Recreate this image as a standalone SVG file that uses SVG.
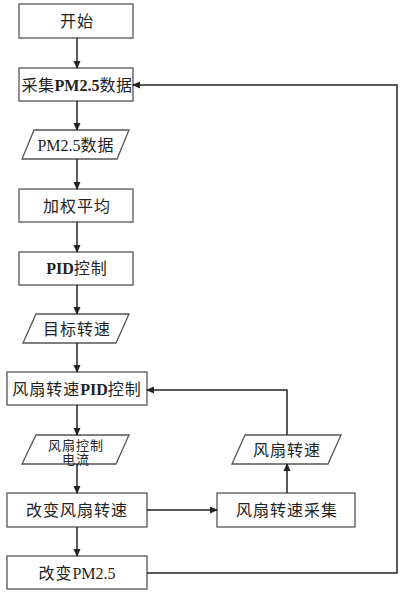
<svg xmlns="http://www.w3.org/2000/svg" width="402" height="592" viewBox="0 0 402 592">
<style>
.b{fill:#fff;stroke:#555;stroke-width:1.3}
.t{font-family:"Liberation Serif","Noto Sans CJK SC",serif;font-size:16px;letter-spacing:1px;fill:#222;text-anchor:middle;dominant-baseline:central}
.s{font-size:13px}
.l{font-weight:bold;letter-spacing:0}
.r{letter-spacing:0}
.c{fill:none;stroke:#222;stroke-width:1.5}
</style>
<defs>
<marker id="a" markerWidth="8" markerHeight="8" refX="7" refY="4" orient="auto" markerUnits="userSpaceOnUse">
<path d="M0,0.5 L8,4 L0,7.5 Z" fill="#222"/>
</marker>
</defs>
<rect width="402" height="592" fill="#fff"/>
<g id="n1"><rect class="b" x="19" y="4" width="114" height="34"/><text class="t" x="77" y="21">开始</text></g>
<g id="n2"><rect class="b" x="19" y="68" width="114" height="33"/><text class="t" x="77" y="85" style="letter-spacing:0.5px">采集<tspan class="l">PM2.5</tspan>数据</text></g>
<g id="n3"><polygon class="b" points="34,130 129,130 117,159 22,159"/><text class="t" x="76" y="145"><tspan class="r">PM2.5</tspan>数据</text></g>
<g id="n4"><rect class="b" x="19" y="189" width="114" height="33"/><text class="t" x="77" y="206">加权平均</text></g>
<g id="n5"><rect class="b" x="19" y="252" width="114" height="33"/><text class="t" x="77" y="268"><tspan class="l">PID</tspan>控制</text></g>
<g id="n6"><polygon class="b" points="36,314 129,314 116,343 23,343"/><text class="t" x="77" y="329">目标转速</text></g>
<g id="n7"><rect class="b" x="7" y="372" width="140" height="33"/><text class="t" x="77" y="389">风扇转速<tspan class="l">PID</tspan>控制</text></g>
<g id="n8"><polygon class="b" points="36,435 129,435 116,464 22,464"/><text class="t s" x="76" y="445">风扇控制</text><text class="t s" x="76" y="459">电流</text></g>
<g id="n9"><polygon class="b" points="245,435 341,435 328,464 232,464"/><text class="t" x="287" y="450">风扇转速</text></g>
<g id="n10"><rect class="b" x="7" y="493" width="140" height="34"/><text class="t" x="77" y="510">改变风扇转速</text></g>
<g id="n11"><rect class="b" x="217" y="493" width="138" height="34"/><text class="t" x="287" y="510">风扇转速采集</text></g>
<g id="n12"><rect class="b" x="7" y="556" width="140" height="33"/><text class="t" x="77" y="573">改变<tspan class="r">PM2.5</tspan></text></g>
<g id="connectors">
<line class="c" x1="77" y1="38" x2="77" y2="68" marker-end="url(#a)"/>
<line class="c" x1="77" y1="101" x2="77" y2="130" marker-end="url(#a)"/>
<line class="c" x1="77" y1="159" x2="77" y2="189" marker-end="url(#a)"/>
<line class="c" x1="77" y1="222" x2="77" y2="252" marker-end="url(#a)"/>
<line class="c" x1="77" y1="285" x2="77" y2="314" marker-end="url(#a)"/>
<line class="c" x1="77" y1="343" x2="77" y2="372" marker-end="url(#a)"/>
<line class="c" x1="77" y1="405" x2="77" y2="435" marker-end="url(#a)"/>
<line class="c" x1="77" y1="464" x2="77" y2="493" marker-end="url(#a)"/>
<line class="c" x1="77" y1="527" x2="77" y2="556" marker-end="url(#a)"/>
<line class="c" x1="147" y1="510" x2="217" y2="510" marker-end="url(#a)"/>
<line class="c" x1="287" y1="493" x2="287" y2="464" marker-end="url(#a)"/>
<polyline class="c" points="287,435 287,390 147,390" marker-end="url(#a)"/>
<polyline class="c" points="147,573 397,573 397,85 133,85" marker-end="url(#a)"/>
</g>
</svg>
